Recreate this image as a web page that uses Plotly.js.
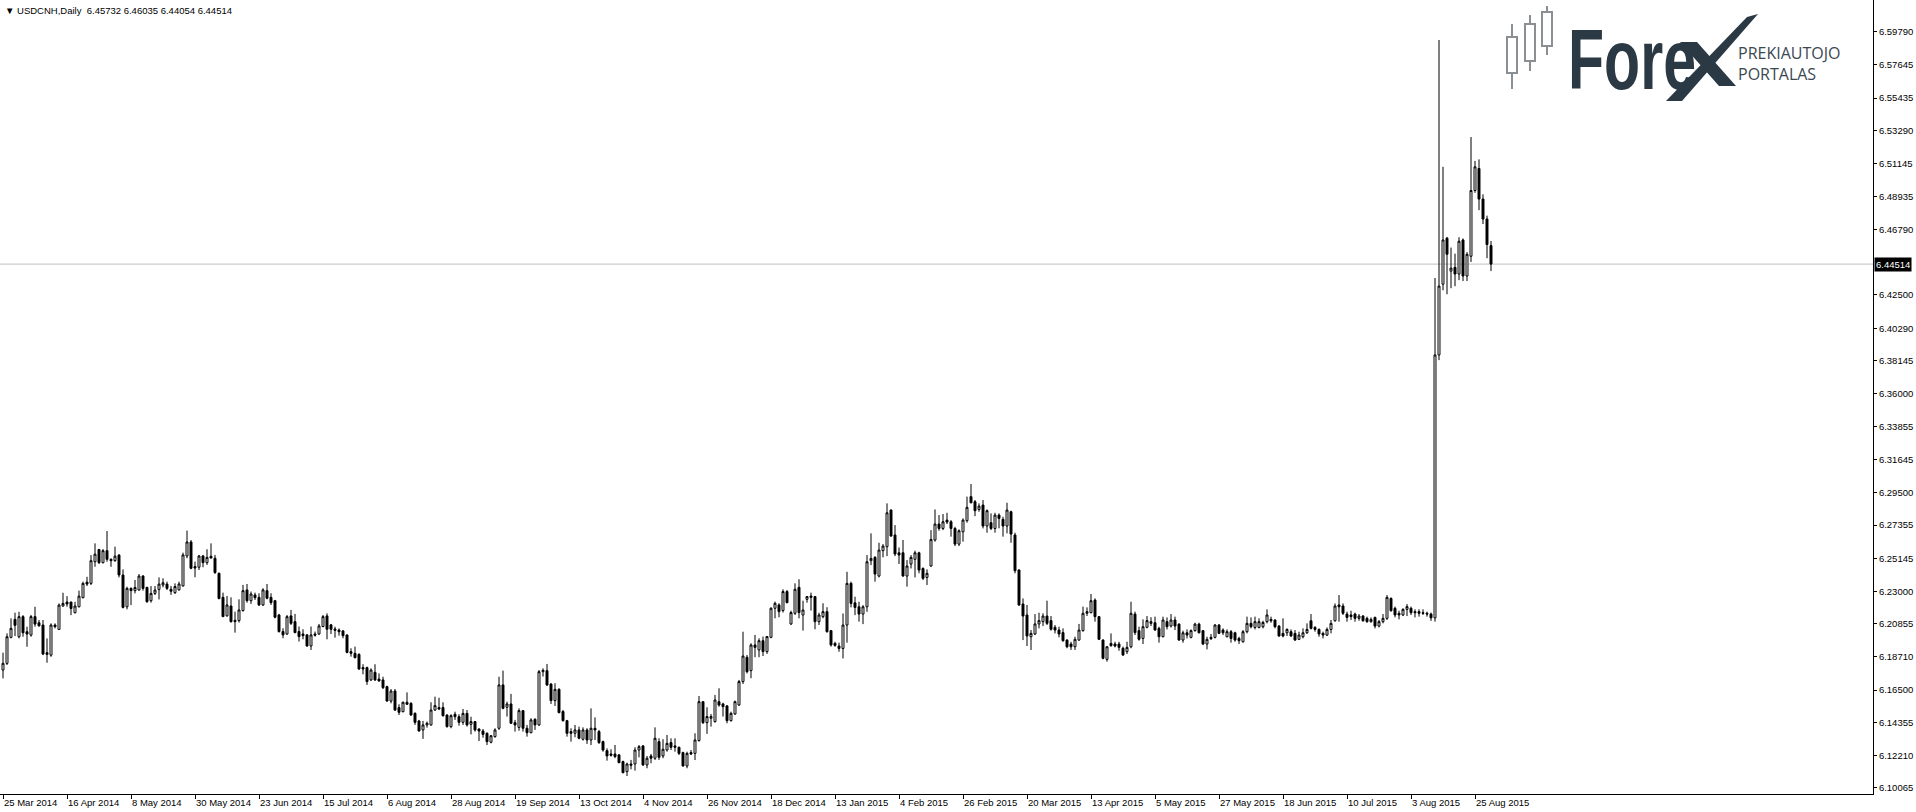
<!DOCTYPE html>
<html>
<head>
<meta charset="utf-8">
<script src="https://cdn.plot.ly/plotly-3.0.1.min.js"></script>
<style>
html,body{margin:0;padding:0;background:#fff;}
#chart{width:1916px;height:812px;}
</style>
</head>
<body>
<div id="chart"></div>
<script>
// ---- DATA (USDCNH Daily) ----
const symbol = "USDCNH,Daily";

const tickBars = [0,16,32,48,64,80,96,112,128,144,160,176,192,208,224,240,256,272,288,304,320,336,352,368];
const tickLabels = ["25 Mar 2014","16 Apr 2014","8 May 2014","30 May 2014","23 Jun 2014","15 Jul 2014","6 Aug 2014","28 Aug 2014","19 Sep 2014","13 Oct 2014","4 Nov 2014","26 Nov 2014","18 Dec 2014","13 Jan 2015","4 Feb 2015","26 Feb 2015","20 Mar 2015","13 Apr 2015","5 May 2015","27 May 2015","18 Jun 2015","10 Jul 2015","3 Aug 2015","25 Aug 2015"];

const priceLabels = ["6.59790","6.57645","6.55435","6.53290","6.51145","6.48935","6.46790","6.42500","6.40290","6.38145","6.36000","6.33855","6.31645","6.29500","6.27355","6.25145","6.23000","6.20855","6.18710","6.16500","6.14355","6.12210","6.10065"];

const open = [
6.1782,6.1826,6.1997,6.2115,6.2001,6.2133,6.2034,6.2012,6.2133,6.2093,
6.2078,6.1896,6.1880,6.2078,6.2049,6.2203,6.2229,6.2229,6.2159,6.2198,
6.2258,6.2360,6.2352,6.2494,6.2575,6.2488,6.2567,6.2510,6.2501,6.2538,
6.2407,6.2198,6.2319,6.2304,6.2308,6.2400,6.2325,6.2238,6.2286,6.2312,
6.2341,6.2347,6.2313,6.2291,6.2309,6.2335,6.2532,6.2624,6.2462,6.2458,
6.2532,6.2488,6.2530,6.2517,6.2418,6.2260,6.2138,6.2203,6.2109,6.2107,
6.2173,6.2309,6.2238,6.2276,6.2260,6.2210,6.2304,6.2260,6.2238,6.2144,
6.2035,6.2019,6.2138,6.2100,6.2035,6.2019,6.2013,6.1940,6.2019,6.2019,
6.2068,6.2138,6.2079,6.2052,6.2045,6.2039,6.2012,6.1903,6.1892,6.1885,
6.1798,6.1798,6.1717,6.1767,6.1723,6.1717,6.1673,6.1578,6.1644,6.1535,
6.1508,6.1570,6.1563,6.1497,6.1447,6.1388,6.1421,6.1421,6.1519,6.1535,
6.1535,6.1486,6.1410,6.1491,6.1475,6.1438,6.1497,6.1425,6.1443,6.1394,
6.1381,6.1366,6.1307,6.1344,6.1399,6.1684,6.1537,6.1559,6.1436,6.1405,
6.1515,6.1399,6.1370,6.1458,6.1421,6.1771,6.1778,6.1690,6.1581,6.1655,
6.1509,6.1449,6.1377,6.1366,6.1388,6.1327,6.1388,6.1322,6.1399,6.1377,
6.1311,6.1252,6.1230,6.1230,6.1224,6.1180,6.1114,6.1164,6.1164,6.1256,
6.1283,6.1158,6.1217,6.1202,6.1311,6.1217,6.1256,6.1305,6.1283,6.1274,
6.1239,6.1151,6.1239,6.1234,6.1318,6.1574,6.1436,6.1465,6.1443,6.1574,
6.1559,6.1546,6.1449,6.1493,6.1552,6.1706,6.1866,6.1778,6.1947,6.1914,
6.1975,6.1903,6.1997,6.2188,6.2210,6.2173,6.2298,6.2085,6.2155,6.2326,
6.2144,6.2247,6.2269,6.2265,6.2100,6.2133,6.2166,6.2041,6.1957,6.1940,
6.1924,6.2078,6.2352,6.2224,6.2198,6.2150,6.2198,6.2501,6.2523,6.2400,
6.2567,6.2593,6.2834,6.2670,6.2553,6.2553,6.2400,6.2479,6.2510,6.2553,
6.2450,6.2391,6.2466,6.2637,6.2742,6.2713,6.2768,6.2757,6.2713,6.2610,
6.2691,6.2764,6.2922,6.2889,6.2838,6.2867,6.2729,6.2751,6.2713,6.2801,
6.2773,6.2729,6.2823,6.2670,6.2440,6.2216,6.2144,6.2001,6.2019,6.2085,
6.2100,6.2137,6.2107,6.2063,6.2045,6.2028,6.1979,6.1953,6.1935,6.1979,
6.2041,6.2155,6.2159,6.2242,6.2133,6.1979,6.1852,6.1957,6.1953,6.1953,
6.1925,6.1903,6.1935,6.2150,6.2041,6.1990,6.2063,6.2089,6.2093,6.2056,
6.2001,6.2100,6.2071,6.2111,6.2084,6.1979,6.2027,6.1997,6.2041,6.2084,
6.2041,6.1953,6.1997,6.1997,6.2078,6.2045,6.2001,6.2034,6.2027,6.1990,
6.1968,6.2034,6.2089,6.2062,6.2062,6.2067,6.2100,6.2115,6.2111,6.2071,
6.2023,6.2027,6.2034,6.2023,6.1984,6.2001,6.2027,6.2106,6.2062,6.2049,
6.2023,6.2012,6.2049,6.2106,6.2210,6.2203,6.2150,6.2144,6.2150,6.2122,
6.2137,6.2122,6.2100,6.2128,6.2071,6.2100,6.2122,6.2253,6.2188,6.2155,
6.2144,6.2181,6.2188,6.2166,6.2166,6.2159,6.2155,6.2150,6.2125,6.3854,
6.4319,6.4622,6.4405,6.4430,6.4386,6.4610,6.4373,6.4503,6.4935,6.5080,
6.4879,6.4748,6.45732
];
const high = [
6.1896,6.2023,6.2122,6.2159,6.2165,6.2143,6.2067,6.2144,6.2198,6.2111,
6.2111,6.1990,6.2089,6.2089,6.2220,6.2290,6.2268,6.2231,6.2231,6.2304,
6.2363,6.2395,6.2538,6.2615,6.2577,6.2577,6.2696,6.2516,6.2593,6.2544,
6.2444,6.2330,6.2325,6.2374,6.2413,6.2406,6.2330,6.2334,6.2334,6.2391,
6.2385,6.2363,6.2335,6.2352,6.2363,6.2554,6.2699,6.2637,6.2495,6.2539,
6.2539,6.2576,6.2615,6.2539,6.2423,6.2291,6.2269,6.2260,6.2166,6.2247,
6.2342,6.2348,6.2298,6.2291,6.2287,6.2320,6.2348,6.2287,6.2243,6.2151,
6.2057,6.2144,6.2177,6.2151,6.2068,6.2050,6.2019,6.2068,6.2035,6.2085,
6.2144,6.2155,6.2085,6.2067,6.2056,6.2045,6.2017,6.1925,6.1936,6.1892,
6.1820,6.1804,6.1793,6.1820,6.1760,6.1738,6.1679,6.1657,6.1657,6.1557,
6.1574,6.1635,6.1570,6.1504,6.1454,6.1447,6.1443,6.1570,6.1607,6.1600,
6.1570,6.1491,6.1491,6.1508,6.1491,6.1526,6.1519,6.1475,6.1447,6.1399,
6.1394,6.1372,6.1355,6.1399,6.1738,6.1778,6.1574,6.1625,6.1454,6.1530,
6.1519,6.1421,6.1465,6.1465,6.1782,6.1793,6.1822,6.1695,6.1695,6.1662,
6.1519,6.1454,6.1399,6.1421,6.1410,6.1405,6.1399,6.1530,6.1471,6.1388,
6.1318,6.1267,6.1261,6.1289,6.1230,6.1186,6.1173,6.1191,6.1274,6.1289,
6.1289,6.1217,6.1230,6.1405,6.1333,6.1327,6.1355,6.1333,6.1333,6.1278,
6.1245,6.1245,6.1256,6.1366,6.1611,6.1574,6.1537,6.1493,6.1618,6.1662,
6.1567,6.1552,6.1508,6.1581,6.1717,6.2034,6.1881,6.1958,6.2013,6.1991,
6.2002,6.2006,6.2195,6.2232,6.2221,6.2313,6.2308,6.2172,6.2352,6.2379,
6.2238,6.2269,6.2291,6.2269,6.2159,6.2221,6.2195,6.2045,6.1968,6.1962,
6.2154,6.2428,6.2363,6.2264,6.2231,6.2209,6.2538,6.2681,6.2531,6.2619,
6.2610,6.2878,6.2838,6.2735,6.2588,6.2637,6.2505,6.2538,6.2567,6.2560,
6.2457,6.2444,6.2702,6.2838,6.2801,6.2808,6.2816,6.2768,6.2724,6.2707,
6.2779,6.2922,6.3005,6.2900,6.2878,6.2900,6.2838,6.2812,6.2816,6.2812,
6.2790,6.2882,6.2830,6.2685,6.2444,6.2253,6.2210,6.2045,6.2150,6.2159,
6.2155,6.2238,6.2137,6.2078,6.2067,6.2056,6.1984,6.1968,6.2001,6.2085,
6.2199,6.2194,6.2282,6.2253,6.2137,6.1984,6.1940,6.2023,6.1968,6.1968,
6.1936,6.1968,6.2231,6.2166,6.2067,6.2115,6.2137,6.2129,6.2133,6.2067,
6.2133,6.2128,6.2150,6.2133,6.2089,6.2041,6.2049,6.2049,6.2093,6.2093,
6.2045,6.2001,6.2019,6.2084,6.2084,6.2056,6.2049,6.2045,6.2034,6.2001,
6.2045,6.2133,6.2128,6.2133,6.2122,6.2106,6.2181,6.2133,6.2115,6.2078,
6.2122,6.2056,6.2049,6.2045,6.2034,6.2056,6.2089,6.2150,6.2071,6.2056,
6.2034,6.2062,6.2111,6.2220,6.2275,6.2220,6.2166,6.2172,6.2159,6.2150,
6.2144,6.2133,6.2128,6.2133,6.2111,6.2150,6.2275,6.2260,6.2199,6.2172,
6.2188,6.2216,6.2199,6.2181,6.2181,6.2181,6.2166,6.2160,6.4360,6.5925,
6.5091,6.4630,6.4560,6.4520,6.4628,6.4620,6.4530,6.5287,6.5130,6.5140,
6.4910,6.4770,6.46035
];
const low = [
6.1727,6.1815,6.1990,6.2005,6.1990,6.2001,6.1935,6.2001,6.2067,6.2067,
6.1880,6.1830,6.1869,6.2056,6.2045,6.2198,6.2198,6.2143,6.2154,6.2194,
6.2253,6.2334,6.2341,6.2461,6.2479,6.2483,6.2494,6.2461,6.2494,6.2391,
6.2187,6.2181,6.2209,6.2286,6.2304,6.2304,6.2225,6.2225,6.2275,6.2246,
6.2326,6.2308,6.2276,6.2282,6.2304,6.2331,6.2517,6.2445,6.2392,6.2440,
6.2458,6.2473,6.2515,6.2414,6.2247,6.2133,6.2133,6.2094,6.2028,6.2094,
6.2166,6.2225,6.2217,6.2243,6.2203,6.2203,6.2247,6.2210,6.2122,6.2028,
6.1991,6.2013,6.2078,6.2024,6.1969,6.1984,6.1936,6.1914,6.2002,6.2013,
6.2063,6.1984,6.2019,6.1995,6.2008,6.1991,6.1892,6.1870,6.1859,6.1782,
6.1754,6.1684,6.1710,6.1710,6.1706,6.1657,6.1574,6.1563,6.1513,6.1486,
6.1504,6.1552,6.1482,6.1421,6.1377,6.1329,6.1403,6.1416,6.1513,6.1519,
6.1475,6.1403,6.1399,6.1454,6.1416,6.1421,6.1410,6.1359,6.1377,6.1315,
6.1337,6.1289,6.1300,6.1337,6.1388,6.1524,6.1476,6.1427,6.1377,6.1383,
6.1377,6.1344,6.1366,6.1388,6.1414,6.1739,6.1677,6.1559,6.1546,6.1497,
6.1443,6.1344,6.1311,6.1340,6.1327,6.1318,6.1296,6.1289,6.1322,6.1296,
6.1245,6.1186,6.1213,6.1202,6.1169,6.1103,6.1085,6.1129,6.1120,6.1208,
6.1151,6.1136,6.1169,6.1191,6.1191,6.1202,6.1245,6.1256,6.1245,6.1223,
6.1147,6.1136,6.1223,6.1190,6.1311,6.1427,6.1362,6.1410,6.1436,6.1541,
6.1476,6.1432,6.1443,6.1487,6.1546,6.1690,6.1760,6.1728,6.1866,6.1866,
6.1874,6.1888,6.1991,6.2122,6.2129,6.2160,6.2221,6.2078,6.2144,6.2122,
6.2041,6.2225,6.2173,6.2050,6.2078,6.2122,6.2028,6.1936,6.1935,6.1902,
6.1858,6.1962,6.2194,6.2143,6.2100,6.2084,6.2165,6.2472,6.2363,6.2391,
6.2523,6.2531,6.2659,6.2531,6.2479,6.2396,6.2330,6.2450,6.2391,6.2418,
6.2374,6.2341,6.2461,6.2626,6.2698,6.2702,6.2742,6.2659,6.2597,6.2597,
6.2626,6.2751,6.2878,6.2794,6.2823,6.2713,6.2685,6.2702,6.2685,6.2714,
6.2659,6.2681,6.2619,6.2418,6.2203,6.1979,6.1940,6.1914,6.2012,6.2056,
6.2071,6.2078,6.2041,6.2023,6.1997,6.1968,6.1925,6.1914,6.1914,6.1975,
6.2034,6.2137,6.2155,6.2100,6.1979,6.1852,6.1837,6.1936,6.1931,6.1909,
6.1874,6.1887,6.1925,6.2012,6.1975,6.1953,6.2056,6.2071,6.2041,6.1962,
6.1997,6.2049,6.2062,6.2045,6.1975,6.1962,6.1990,6.1990,6.2034,6.2023,
6.1946,6.1918,6.1979,6.1990,6.2019,6.2012,6.1997,6.1962,6.1968,6.1953,
6.1962,6.2023,6.2056,6.2049,6.2056,6.2056,6.2089,6.2093,6.2056,6.2001,
6.1997,6.2006,6.2001,6.1975,6.1979,6.1990,6.2019,6.2049,6.2034,6.2001,
6.1990,6.2006,6.2023,6.2100,6.2100,6.2144,6.2100,6.2111,6.2100,6.2106,
6.2100,6.2093,6.2093,6.2056,6.2062,6.2089,6.2111,6.2166,6.2128,6.2115,
6.2137,6.2137,6.2144,6.2128,6.2133,6.2144,6.2133,6.2105,6.2100,6.3820,
6.4279,6.4253,6.4293,6.4306,6.4346,6.4340,6.4340,6.4465,6.4920,6.4806,
6.4715,6.4490,6.44054
];
const close = [
6.1826,6.2001,6.2056,6.2076,6.2133,6.2027,6.2019,6.2133,6.2084,6.2073,
6.1887,6.1885,6.2078,6.2067,6.2209,6.2220,6.2216,6.2187,6.2203,6.2268,
6.2352,6.2347,6.2501,6.2544,6.2488,6.2567,6.2510,6.2501,6.2531,6.2407,
6.2194,6.2319,6.2304,6.2325,6.2400,6.2319,6.2231,6.2286,6.2308,6.2347,
6.2356,6.2319,6.2300,6.2331,6.2348,6.2539,6.2624,6.2451,6.2453,6.2532,
6.2488,6.2523,6.2519,6.2423,6.2252,6.2133,6.2210,6.2100,6.2100,6.2177,
6.2304,6.2238,6.2282,6.2258,6.2210,6.2309,6.2254,6.2225,6.2129,6.2035,
6.2013,6.2133,6.2089,6.2028,6.2002,6.2008,6.1940,6.2013,6.2011,6.2072,
6.2133,6.2050,6.2050,6.2043,6.2034,6.2008,6.1898,6.1892,6.1863,6.1789,
6.1789,6.1706,6.1782,6.1717,6.1710,6.1666,6.1578,6.1644,6.1519,6.1504,
6.1570,6.1557,6.1486,6.1438,6.1381,6.1421,6.1432,6.1519,6.1548,6.1526,
6.1482,6.1410,6.1482,6.1475,6.1438,6.1497,6.1421,6.1443,6.1388,6.1381,
6.1359,6.1311,6.1350,6.1388,6.1684,6.1530,6.1559,6.1432,6.1421,6.1515,
6.1399,6.1370,6.1454,6.1421,6.1771,6.1780,6.1684,6.1581,6.1655,6.1502,
6.1449,6.1366,6.1366,6.1388,6.1333,6.1388,6.1322,6.1399,6.1388,6.1305,
6.1256,6.1217,6.1221,6.1213,6.1173,6.1107,6.1164,6.1156,6.1256,6.1278,
6.1158,6.1202,6.1202,6.1333,6.1208,6.1261,6.1300,6.1274,6.1274,6.1234,
6.1151,6.1234,6.1230,6.1322,6.1574,6.1436,6.1476,6.1476,6.1585,6.1552,
6.1541,6.1449,6.1497,6.1574,6.1706,6.1874,6.1771,6.1947,6.1931,6.1975,
6.1903,6.2002,6.2188,6.2221,6.2166,6.2298,6.2225,6.2160,6.2313,6.2160,
6.2177,6.2265,6.2260,6.2100,6.2144,6.2166,6.2034,6.1947,6.1944,6.1924,
6.2078,6.2352,6.2220,6.2194,6.2150,6.2198,6.2494,6.2516,6.2413,6.2571,
6.2597,6.2816,6.2663,6.2545,6.2538,6.2400,6.2466,6.2523,6.2553,6.2439,
6.2385,6.2418,6.2641,6.2742,6.2713,6.2757,6.2755,6.2713,6.2610,6.2698,
6.2768,6.2852,6.2882,6.2830,6.2860,6.2729,6.2830,6.2713,6.2801,6.2779,
6.2729,6.2834,6.2676,6.2435,6.2210,6.2137,6.2006,6.2023,6.2085,6.2107,
6.2137,6.2089,6.2050,6.2045,6.2019,6.1975,6.1935,6.1935,6.1984,6.2045,
6.2155,6.2166,6.2238,6.2133,6.1984,6.1859,6.1935,6.1942,6.1940,6.1931,
6.1881,6.1931,6.2155,6.2028,6.1984,6.2067,6.2107,6.2100,6.2045,6.2001,
6.2111,6.2067,6.2111,6.2071,6.1979,6.2027,6.2012,6.2041,6.2084,6.2027,
6.1953,6.1984,6.1988,6.2078,6.2023,6.2027,6.2034,6.1990,6.1979,6.1975,
6.2034,6.2089,6.2067,6.2100,6.2100,6.2095,6.2144,6.2106,6.2067,6.2006,
6.2006,6.2049,6.2006,6.1979,6.2012,6.2027,6.2049,6.2056,6.2049,6.2019,
6.2012,6.2049,6.2089,6.2203,6.2198,6.2155,6.2128,6.2133,6.2122,6.2137,
6.2106,6.2100,6.2115,6.2071,6.2100,6.2122,6.2260,6.2172,6.2144,6.2144,
6.2181,6.2199,6.2159,6.2159,6.2155,6.2155,6.2150,6.2125,6.3854,6.4307,
6.4610,6.4516,6.4425,6.4386,6.4602,6.4373,6.4516,6.4935,6.5091,6.4879,
6.4748,6.4580,6.44514
];

// ---- LAYOUT (pixel helpers for decoration only) ----
const W = 1916, H = 812;
const M = {l:0, r:43, t:0, b:18};
const PW = W - M.l - M.r, PH = H - M.t - M.b;
const px = x => (x - M.l) / PW;
const py = y => 1 - (y - M.t) / PH;

const n = close.length;
const bars = close.map((_, i) => i);
const last = n - 1;
const fmt = v => v.toFixed(5);
const lastClose = close[last];

const FONT = "Liberation Sans, Arial, sans-serif";
const logoColor = "#2b3944";
const LOGO_WORD_W = 128;     // px width of the logo word
const LOGO_WORD_SIZE = 60;   // base font size, stretched vertically below
const LOGO_WORD_STRETCH = 1.43;

const trace = {
  type: 'candlestick',
  x: bars, open: open, high: high, low: low, close: close,
  increasing: {line: {color: '#000000', width: 1}, fillcolor: '#ffffff'},
  decreasing: {line: {color: '#000000', width: 1}, fillcolor: '#000000'},
  whiskerwidth: 0,
  hoverinfo: 'none',
  showlegend: false
};

const shapes = [
  {type: 'line', xref: 'paper', x0: 0, x1: 1, yref: 'y', y0: lastClose, y1: lastClose,
   line: {color: '#c0c0c0', width: 1}, layer: 'below'}
];

// logo candle icons (decoration)
const icons = [
  {x: 1512, wt: 24, wb: 89, bt: 37, bb: 73},
  {x: 1530, wt: 15, wb: 71, bt: 24, bb: 61},
  {x: 1547, wt: 6,  wb: 55, bt: 12, bb: 46}
];
icons.forEach(c => {
  shapes.push({type: 'line', xref: 'paper', yref: 'paper', x0: px(c.x), x1: px(c.x), y0: py(c.wt), y1: py(c.wb),
    line: {color: '#8a8f94', width: 2}});
  shapes.push({type: 'rect', xref: 'paper', yref: 'paper', x0: px(c.x - 5), x1: px(c.x + 5), y0: py(c.bt), y1: py(c.bb),
    line: {color: '#8a8f94', width: 2}, fillcolor: '#ffffff'});
});
// stylised X of the logo
shapes.push({type: 'path', xref: 'paper', yref: 'paper',
  path: `M ${px(1666)},${py(101)} L ${px(1682)},${py(101)} L ${px(1758)},${py(14)} L ${px(1747)},${py(17)} Z`,
  fillcolor: logoColor, line: {width: 0}});
shapes.push({type: 'path', xref: 'paper', yref: 'paper',
  path: `M ${px(1680)},${py(42)} L ${px(1697)},${py(42)} L ${px(1736)},${py(86)} L ${px(1719)},${py(86)} Z`,
  fillcolor: logoColor, line: {width: 0}});

const annotations = [
  {xref: 'paper', yref: 'paper', x: px(3), y: py(3), xanchor: 'left', yanchor: 'top', showarrow: false,
   text: '▼ ' + symbol + '  ' + fmt(open[last]) + ' ' + fmt(high[last]) + ' ' + fmt(low[last]) + ' ' + fmt(close[last]),
   font: {family: FONT, size: 9.5, color: '#000'}},
  {xref: 'paper', yref: 'y', x: 1, y: lastClose, xanchor: 'left', yanchor: 'middle', xshift: 1, showarrow: false,
   text: fmt(lastClose), bgcolor: '#000000', font: {family: FONT, size: 9.5, color: '#ffffff'}, borderpad: 1},
  {xref: 'paper', yref: 'paper', x: px(1566), y: py(103), xanchor: 'left', yanchor: 'bottom', showarrow: false,
   borderpad: 0,
   text: 'Fore', font: {family: FONT, size: LOGO_WORD_SIZE, weight: 700, color: logoColor}},
  {xref: 'paper', yref: 'paper', x: px(1737), y: py(41), xanchor: 'left', yanchor: 'top', showarrow: false,
   align: 'left', borderpad: 0,
   text: 'PREKIAUTOJO<br>PORTALAS', font: {family: 'Open Sans, sans-serif', size: 16, color: '#3b4852'}}
];

const layout = {
  width: W, height: H,
  margin: {l: M.l, r: M.r, t: M.t, b: M.b, pad: 0},
  paper_bgcolor: '#ffffff', plot_bgcolor: '#ffffff',
  showlegend: false,
  dragmode: false,
  xaxis: {
    type: 'linear', range: [-0.75, (PW - 3) / 4],
    tickmode: 'array', tickvals: tickBars, ticktext: tickLabels,
    ticks: 'outside', ticklen: 4, tickcolor: '#000', tickwidth: 1,
    ticklabelposition: 'outside right',
    showline: true, linecolor: '#000', linewidth: 1, mirror: false,
    showgrid: false, zeroline: false, fixedrange: true,
    rangeslider: {visible: false},
    tickfont: {family: FONT, size: 9.5, color: '#000'}
  },
  yaxis: {
    side: 'right',
    range: [6.5979 - (PH - 31.8) * 0.0006576, 6.5979 + 31.8 * 0.0006576],
    tickmode: 'array', tickvals: priceLabels.map(Number), ticktext: priceLabels,
    ticks: 'outside', ticklen: 3, tickcolor: '#000', tickwidth: 1,
    showline: true, linecolor: '#000', linewidth: 1,
    showgrid: false, zeroline: false, fixedrange: true,
    tickfont: {family: FONT, size: 9.5, color: '#000'}
  },
  shapes: shapes,
  annotations: annotations
};

Plotly.newPlot('chart', [trace], layout, {staticPlot: true, displayModeBar: false}).then(gd => {
  // shape the logo word like the narrow, tall logotype
  const anns = gd.querySelectorAll('.annotation');
  const word = anns[2];
  if (!word) return;
  const t = word.querySelector('text');
  if (!t) return;
  const xc = parseFloat(t.getAttribute('x')) || 0;
  const by = parseFloat(t.getAttribute('y')) || 0;
  t.setAttribute('text-anchor', 'start');
  t.setAttribute('x', xc - LOGO_WORD_W / 2);
  t.setAttribute('textLength', LOGO_WORD_W);
  t.setAttribute('lengthAdjust', 'spacingAndGlyphs');
  const prev = t.getAttribute('transform') || '';
  t.setAttribute('transform', `${prev} translate(0,${by}) scale(1,${LOGO_WORD_STRETCH}) translate(0,${-by})`.trim());
});
</script>
</body>
</html>
